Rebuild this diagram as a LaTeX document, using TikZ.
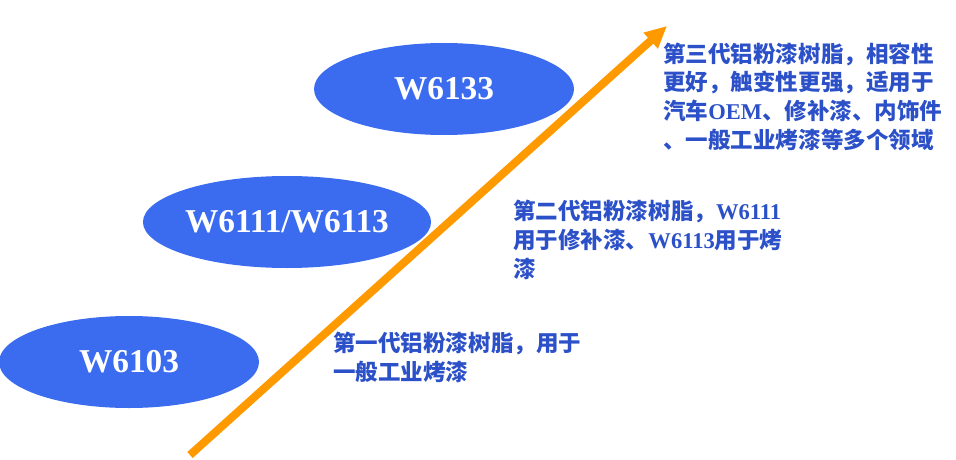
\documentclass[tikz,border=0pt]{standalone}
\usepackage{fontspec}
\setmainfont{Liberation Serif}
\newfontfamily\cjk{Noto Sans CJK SC}
\definecolor{genBlue}{HTML}{3B6CF0}
\definecolor{noteBlue}{HTML}{2B50C8}
\definecolor{growOrange}{HTML}{FF9900}
\usetikzlibrary{shapes.geometric,arrows.meta,positioning}
\newcommand{\lat}[1]{{\rmfamily #1}}

\begin{document}
\begin{tikzpicture}[x=0.75pt, y=-0.75pt,
    genbox/.style={ellipse, fill=genBlue, draw=none, minimum width=195pt, minimum height=69pt,
                   inner sep=0pt, text=white, font=\bfseries\fontsize{25pt}{28pt}\selectfont},
    notebox/.style={anchor=base west, align=left, inner sep=0pt, text=noteBlue,
                    font=\cjk\bfseries\fontsize{16.9pt}{21.4pt}\selectfont},
    growth/.style={-{Triangle[length=16.5pt, width=15pt]}, line width=6pt, color=growOrange}
  ]
  \useasboundingbox (0,0) rectangle (956,460);

  % the three generations
  \node[genbox] (g1) at (129,362) {W6103};
  \node[genbox] (g2) at (287,222) {W6111/W6113};
  \node[genbox] (g3) at (444,89) {W6133};

  % growth arrow
  \coordinate (tail) at (190,455);
  \coordinate (tip) at (667,26);
  \draw[growth] (tail) -- (tip);

  % notes beside the arrow (base = last line)
  \node[notebox] (t1) at (333,380) {第一代铝粉漆树脂，用于\\一般工业烤漆};
  \node[notebox] (t2) at (513,277) {第二代铝粉漆树脂，\lat{W6111}\\用于修补漆、\lat{W6113}用于烤\\漆};
  \node[notebox] (t3) at (663,148) {第三代铝粉漆树脂，相容性\\更好，触变性更强，适用于\\汽车\lat{OEM}、修补漆、内饰件\\、一般工业烤漆等多个领域};

\end{tikzpicture}
\end{document}
